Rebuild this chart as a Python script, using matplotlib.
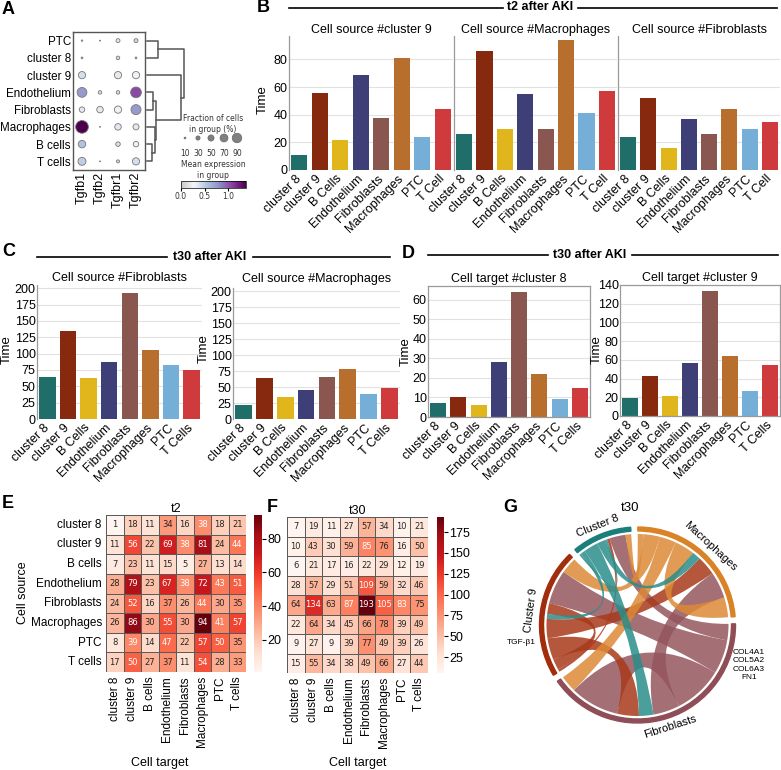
import numpy as np
import matplotlib
matplotlib.use('Agg')
import matplotlib.pyplot as plt
import seaborn as sns
from matplotlib.lines import Line2D
from matplotlib.path import Path
from matplotlib.patches import PathPatch, Wedge
from matplotlib.colors import LinearSegmentedColormap

plt.rcParams['font.family'] = ['Liberation Sans', 'DejaVu Sans']

W, H = 781, 770

# ---- panel A : dot plot data ----
dot_groups = ['PTC', 'cluster 8', 'cluster 9', 'Endothelium', 'Fibroblasts',
              'Macrophages', 'B cells', 'T cells']
dot_genes = ['Tgfb1', 'Tgfb2', 'Tgfbr1', 'Tgfbr2']
# fraction of cells expressing (%)
dot_frac = [[5, 3, 20, 20],
            [7, 0, 17, 7],
            [45, 0, 45, 45],
            [67, 17, 17, 76],
            [31, 39, 45, 69],
            [95, 3, 39, 35],
            [47, 0, 24, 31],
            [51, 3, 14, 45]]
# mean expression in group
dot_expr = [[0.05, 0.0, 0.2, 0.1],
            [0.05, 0.0, 0.15, 0.05],
            [0.4, 0.0, 0.2, 0.3],
            [0.75, 0.15, 0.15, 1.05],
            [0.35, 0.2, 0.25, 0.75],
            [1.38, 0.05, 0.35, 0.2],
            [0.55, 0.0, 0.15, 0.3],
            [0.5, 0.05, 0.1, 0.4]]
size_legend = [10, 30, 50, 70, 90]
# dendrogram: (row a, row b, x start a, x start b, merge x) in pixels
dendro_links = [(0, 1, 147, 147, 158),
                (3, 4, 147, 147, 153),
                (6, 7, 147, 147, 152),
                (5, 6.5, 147, 152, 154.5),
                (3.5, 5.75, 153, 154.5, 156),
                (2, 4.625, 147, 156, 181),
                (0.5, 3.3125, 158, 181, 183.5)]

# ---- interaction counts (rows = source, cols = target) ----
heat_labels = ['cluster 8', 'cluster 9', 'B cells', 'Endothelium', 'Fibroblasts',
               'Macrophages', 'PTC', 'T cells']
t2_counts = [[1, 18, 11, 34, 16, 38, 18, 21],
             [11, 56, 22, 69, 38, 81, 24, 44],
             [7, 23, 11, 15, 5, 27, 13, 14],
             [28, 79, 23, 67, 38, 72, 43, 51],
             [24, 52, 16, 37, 26, 44, 30, 35],
             [26, 86, 30, 55, 30, 94, 41, 57],
             [8, 39, 14, 47, 22, 57, 50, 35],
             [17, 50, 27, 37, 11, 54, 28, 33]]
t30_counts = [[7, 19, 11, 27, 57, 34, 10, 21],
              [10, 43, 30, 59, 85, 76, 16, 50],
              [6, 21, 17, 16, 22, 29, 12, 19],
              [28, 57, 29, 51, 109, 59, 32, 46],
              [64, 134, 63, 87, 193, 105, 83, 75],
              [22, 64, 34, 45, 66, 78, 39, 49],
              [9, 27, 9, 39, 77, 49, 39, 26],
              [15, 55, 34, 38, 49, 66, 27, 44]]

bar_labels_t2 = ['cluster 8', 'cluster 9', 'B Cells', 'Endothelium', 'Fibroblasts',
                 'Macrophages', 'PTC', 'T Cell']
bar_labels_t30 = ['cluster 8', 'cluster 9', 'B Cells', 'Endothelium', 'Fibroblasts',
                  'Macrophages', 'PTC', 'T Cells']
bar_colors = ['#1f6e6a', '#87290e', '#e1b51c', '#3f3f78', '#8a5750',
              '#b86e2c', '#75aed6', '#cf3b3d']

chord_names = ['Cluster 8', 'Cluster 9', 'Fibroblasts', 'Macrophages']
chord_idx = [0, 1, 4, 5]
chord_colors = ['#2a8d8a', '#a8391a', '#95565e', '#dc8a36']
ring_colors = ['#1a7f7c', '#a12d0c', '#8f4e57', '#d98326']

t2 = np.array(t2_counts)
t30 = np.array(t30_counts)

fig = plt.figure(figsize=(W / 100, H / 100), dpi=100)


def add_ax(x0, y0, x1, y1):
    return fig.add_axes([x0 / W, 1 - y1 / H, (x1 - x0) / W, (y1 - y0) / H])


def ftext(x, y, s, **kw):
    fig.text(x / W, 1 - y / H, s, **kw)


def fline(x0, x1, y):
    fig.add_artist(Line2D([x0 / W, x1 / W], [1 - y / H, 1 - y / H], color='k', lw=1.2))


def letter(x, y, s):
    ftext(x, y, s, fontsize=13, fontweight='bold', va='center', ha='left')


def bar_panel(ax, vals, labels, title, ymax, yticks, show_labels=True, box=False, pad=2):
    x = np.arange(len(vals))
    ax.bar(x, vals, width=0.8, color=bar_colors, zorder=2)
    ax.set_xlim(-0.5, len(vals) - 0.5)
    ax.set_ylim(0, ymax)
    ax.set_yticks(yticks)
    ax.grid(axis='y', color='#e2e2e2', lw=0.8, zorder=0)
    ax.set_axisbelow(True)
    ax.set_xticks(x)
    ax.set_xticklabels(labels, rotation=45, ha='right', va='center',
                       rotation_mode='anchor', fontsize=9)
    ax.tick_params(length=0, labelsize=9)
    ax.tick_params(axis='x', pad=5)
    ax.tick_params(axis='y', pad=1)
    if not show_labels:
        ax.set_yticklabels([])
    for side in ['top', 'right', 'bottom']:
        ax.spines[side].set_visible(box)
    for sp in ax.spines.values():
        sp.set_color('#9a9a9a')
        sp.set_linewidth(0.9)
    ax.set_title(title, fontsize=9, pad=pad)


# ================= A =================
letter(2, 9, 'A')
cmap_a = LinearSegmentedColormap.from_list(
    'expr', [(0, '#c8c8c8'), (0.2, '#f5f5fa'), (0.4, '#b0c4de'),
             (0.6, '#8c8cc4'), (0.8, '#8a3a9c'), (1.0, '#4d004b')])
ax_a = add_ax(73, 32, 145, 170)
frac = np.array(dot_frac, dtype=float)
expr = np.array(dot_expr)
gx, gy = np.meshgrid(np.arange(len(dot_genes)), np.arange(len(dot_groups)))
ax_a.scatter(gx.ravel(), gy.ravel(), s=90 * (frac.ravel() / 100) ** 1.5,
             c=expr.ravel(), cmap=cmap_a, vmin=0, vmax=1.38,
             edgecolors='#777777', linewidths=0.6, zorder=3)
ax_a.set_xlim(-0.5, 3.5)
ax_a.set_ylim(7.5, -0.5)
ax_a.set_xticks(range(len(dot_genes)))
ax_a.set_xticklabels(dot_genes, rotation=90, fontsize=9)
ax_a.set_yticks(range(len(dot_groups)))
ax_a.set_yticklabels(dot_groups, fontsize=8.4)
ax_a.tick_params(length=0, pad=1.5)
for sp in ax_a.spines.values():
    sp.set_color('#555555')
    sp.set_linewidth(1)

ax_d = add_ax(146, 32, 190, 170)
ax_d.set_xlim(146, 190)
ax_d.set_ylim(7.5, -0.5)
ax_d.axis('off')
for ya, yb, xa, xb, h in dendro_links:
    ax_d.plot([xa, h, h, xb], [ya, ya, yb, yb], color='#555555', lw=1.1)

ax_l = add_ax(172, 110, 258, 200)
ax_l.set_xlim(172, 258)
ax_l.set_ylim(200, 110)
ax_l.axis('off')
ax_l.text(213, 124, 'Fraction of cells\nin group (%)', fontsize=5.5, ha='center',
          va='center', color='#333333', family='DejaVu Sans', linespacing=1.2)
lx = [185, 198, 211, 224, 237]
ax_l.scatter(lx, [138] * len(lx), s=55 * (np.array(size_legend) / 100) ** 1.5,
             color='#808080', edgecolors='#666666', linewidths=0.5)
for xx, v in zip(lx, size_legend):
    ax_l.text(xx, 153, str(v), fontsize=5.5, ha='center', va='center',
              color='#333333', family='DejaVu Sans')
ax_l.text(213, 170, 'Mean expression\nin group', fontsize=5.5, ha='center',
          va='center', color='#333333', family='DejaVu Sans', linespacing=1.2)
cax_a = add_ax(181, 181, 246, 188)
cb = fig.colorbar(plt.cm.ScalarMappable(cmap=cmap_a, norm=plt.Normalize(0, 1.38)),
                  cax=cax_a, orientation='horizontal')
cb.set_ticks([0.0, 0.5, 1.0])
cb.ax.tick_params(labelsize=5.5, length=2, pad=1, labelcolor='#333333')
for t in cb.ax.get_xticklabels():
    t.set_family('DejaVu Sans')
cb.outline.set_linewidth(0.5)

# ================= B =================
letter(257, 8, 'B')
fline(289, 503, 7.5)
fline(578, 777, 7.5)
ftext(540, 7.5, 't2 after AKI', fontsize=9, fontweight='bold', ha='center', va='center')
b_rows = [(1, 'Cell source #cluster 9'), (5, 'Cell source #Macrophages'),
          (4, 'Cell source #Fibroblasts')]
b_boxes = [(289, 36, 453, 170), (454, 36, 617, 170), (618, 36, 780, 170)]
for i, ((row, title), box) in enumerate(zip(b_rows, b_boxes)):
    ax = add_ax(*box)
    bar_panel(ax, t2[row], bar_labels_t2, title, 97, [0, 20, 40, 60, 80],
              show_labels=(i == 0), pad=1)
ftext(263, 100, 'Time', fontsize=9.5, rotation=90, ha='center', va='center')

# ================= C =================
letter(2, 252, 'C')
fline(37, 167, 257)
fline(253, 390, 257)
ftext(210, 257, 't30 after AKI', fontsize=9, fontweight='bold', ha='center', va='center')
ax_c1 = add_ax(37, 285, 202, 419)
bar_panel(ax_c1, t30[4], bar_labels_t30, 'Cell source #Fibroblasts', 205,
          np.arange(0, 201, 25), pad=3)
ax_c2 = add_ax(233, 288, 400, 419)
bar_panel(ax_c2, t30[5], bar_labels_t30, 'Cell source #Macrophages', 205,
          np.arange(0, 201, 25), pad=4)
ftext(7, 350, 'Time', fontsize=9.5, rotation=90, ha='center', va='center')
ftext(204, 349, 'Time', fontsize=9.5, rotation=90, ha='center', va='center')

# ================= D =================
letter(402, 253, 'D')
fline(428, 548, 255)
fline(632, 778, 255)
ftext(590, 255, 't30 after AKI', fontsize=9, fontweight='bold', ha='center', va='center')
ax_d1 = add_ax(428, 286, 590, 417)
bar_panel(ax_d1, t30[:, 0], bar_labels_t30, 'Cell target #cluster 8', 67,
          np.arange(0, 61, 10), box=True, pad=3)
ax_d2 = add_ax(620, 285, 780, 416)
bar_panel(ax_d2, t30[:, 1], bar_labels_t30, 'Cell target #cluster 9', 140,
          np.arange(0, 141, 20), box=True, pad=3)
ftext(406, 352, 'Time', fontsize=9.5, rotation=90, ha='center', va='center')
ftext(597, 350, 'Time', fontsize=9.5, rotation=90, ha='center', va='center')


# ================= E / F =================
def heat(ax, cax, data, title, ticks, ylabels):
    sns.heatmap(data, ax=ax, cbar_ax=cax, cmap='Reds', annot=True, fmt='d',
                annot_kws={'fontsize': 6, 'family': 'DejaVu Sans'},
                linewidths=0.5, linecolor='#5a5a5a',
                xticklabels=heat_labels, yticklabels=heat_labels if ylabels else False)
    ax.set_xticklabels(heat_labels, rotation=90, fontsize=8.5)
    if ylabels:
        ax.set_yticklabels(heat_labels, rotation=0, fontsize=8.5)
    ax.tick_params(length=0, pad=3)
    ax.set_title(title, fontsize=9, pad=2)
    cax.set_yticks(ticks)
    cax.tick_params(labelsize=9, length=3, pad=1)


letter(2, 504, 'E')
ax_e = add_ax(106, 515, 246, 672)
cax_e = add_ax(254, 515, 262, 672)
heat(ax_e, cax_e, t2, 't2', [20, 40, 60, 80], True)
ftext(23, 593, 'Cell source', fontsize=9, rotation=90, ha='center', va='center')
ftext(160, 763, 'Cell target', fontsize=9, ha='center', va='center')

letter(267, 507, 'F')
ax_f = add_ax(287, 517, 428, 673)
cax_f = add_ax(437, 517, 444, 673)
heat(ax_f, cax_f, t30, 't30', [25, 50, 75, 100, 125, 150, 175], False)
ftext(358, 763, 'Cell target', fontsize=9, ha='center', va='center')

# ================= G : chord diagram =================
letter(503, 507, 'G')
cx, cy = 637.5, 625
ax_g = add_ax(515, 500, 780, 765)
ax_g.set_xlim(515 - cx, 780 - cx)
ax_g.set_ylim(cy - 765, cy - 500)
ax_g.axis('off')

flows = t30[np.ix_(chord_idx, chord_idx)]
R, r0, r1 = 91, 94, 98
gap = 4.2
sizes = flows.sum(axis=1) + flows.sum(axis=0)
unit = (360 - gap * len(sizes)) / sizes.sum()
lo_ang, hi_ang = [], []
a = 94.0
for s in sizes:
    lo_ang.append(a)
    hi_ang.append(a + s * unit)
    a = a + s * unit + gap

n = len(chord_names)
out_span = [[None] * n for _ in range(n)]
in_span = [[None] * n for _ in range(n)]
for k in range(n):
    cur = hi_ang[k]
    for t in range(n):
        w = flows[k, t] * unit
        out_span[k][t] = (cur, cur - w)
        cur -= w
    for s in range(n):
        w = flows[s, k] * unit
        in_span[k][s] = (cur, cur - w)
        cur -= w


def pt(ang, r=R):
    return (r * np.cos(np.radians(ang)), r * np.sin(np.radians(ang)))


def arc_pts(a0, a1):
    m = max(int(abs(a1 - a0) * 2), 2)
    return [pt(v) for v in np.linspace(a0, a1, m)]


for s in [2, 1, 3, 0]:
    for t in range(n):
        a_hi, a_lo = out_span[s][t]
        b_hi, b_lo = in_span[t][s]
        verts, codes = [], []
        arc1 = arc_pts(a_hi, a_lo)
        verts += arc1
        codes += [Path.MOVETO] + [Path.LINETO] * (len(arc1) - 1)
        verts += [(0, 0), pt(b_hi)]
        codes += [Path.CURVE3, Path.CURVE3]
        arc2 = arc_pts(b_hi, b_lo)[1:]
        verts += arc2
        codes += [Path.LINETO] * len(arc2)
        verts += [(0, 0), pt(a_hi), pt(a_hi)]
        codes += [Path.CURVE3, Path.CURVE3, Path.CLOSEPOLY]
        ax_g.add_patch(PathPatch(Path(verts, codes), facecolor=chord_colors[s],
                                 edgecolor='none', alpha=0.85))

for k in range(n):
    ax_g.add_patch(Wedge((0, 0), r1, lo_ang[k], hi_ang[k], width=r1 - r0,
                         color=ring_colors[k]))
    mid = (lo_ang[k] + hi_ang[k]) / 2 % 360
    rot = mid - 90 if 0 < mid < 180 else mid + 90
    x, y = pt(mid, 107)
    ax_g.text(x, y, chord_names[k], fontsize=8, rotation=rot, ha='center',
              va='center', rotation_mode='anchor')

ax_g.text(-7.5, 117, 't30', fontsize=9.5, ha='center', va='center')
ax_g.text(-116.5, -18, 'TGF-\u03b21', fontsize=6, ha='center', va='center', clip_on=False)
ax_g.text(111.5, -40, 'COL4A1\nCOL5A2\nCOL6A3\nFN1', fontsize=6, ha='center',
          va='center', linespacing=1.3, clip_on=False)

fig.savefig('out.png', dpi=100)
